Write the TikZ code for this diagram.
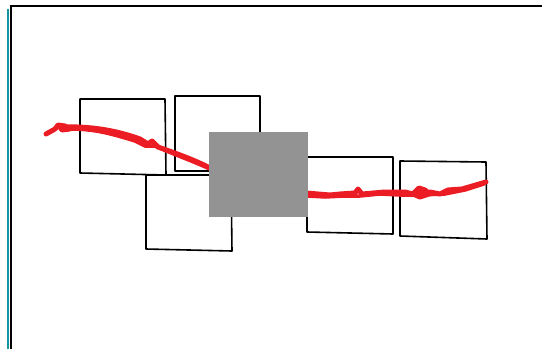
\documentclass[tikz,border=0pt]{standalone}
\begin{document}
\begin{tikzpicture}[x=1pt,y=-1pt,
  sq/.style={draw=black,line width=1.6pt,line join=round},
  ink/.style={draw={rgb,255:red,236;green,28;blue,36},line width=5pt,line cap=round,line join=round},
  inkthin/.style={draw={rgb,255:red,236;green,28;blue,36},line width=3.5pt,line cap=round,line join=round}]
\useasboundingbox (0,0) rectangle (542,349);
\fill[white] (0,0) rectangle (542,349);
% frame
\draw[draw={rgb,255:red,20;green,150;blue,160},line width=2.4pt] (8,9) -- (8,349);
\draw[black,line width=2pt] (10.5,349) -- (10.5,6) -- (542,6);
% boxes
\draw[sq] (80,99) -- (165,99) -- (166,175) -- (80,173) -- cycle;
\draw[sq] (175,96) -- (260,96) -- (260,171) -- (175,171) -- cycle;
\draw[sq] (146,175) -- (231,175) -- (232,251) -- (146,249) -- cycle;
\draw[sq] (307,157) -- (393,157) -- (393,234) -- (307,232) -- cycle;
\draw[sq] (400,161) -- (486,162) -- (487,239) -- (400,236) -- cycle;
% red stroke
\draw[ink] (46,134) -- (55,129) -- (58,125) -- (65,126) -- (70,129) -- (62,130) -- (60,127)
  .. controls (90,126) and (115,130) .. (140,139) -- (148,144) -- (152,141) -- (158,147)
  .. controls (175,153) and (195,160) .. (212,169);
\draw[inkthin] (70,129) .. controls (95,129) and (112,134) .. (135,141) -- (145,146)
  -- (155,146) .. controls (175,155) and (195,162) .. (212,170);
\draw[ink] (306,193) -- (330,195) -- (340,194) -- (355,193) -- (358,189) -- (362,194)
  -- (385,192) -- (405,192) -- (413,194) -- (419,188) -- (425,190) -- (429,194)
  -- (420,197) -- (413,194) -- (430,192) -- (440,194) -- (448,190) -- (462,189) -- (486,182);
\draw[inkthin] (308,196) -- (325,197) -- (345,196) -- (360,196) -- (380,194) -- (400,195)
  -- (420,195) -- (445,194) -- (465,190) -- (484,184);
% gray block
\fill[fill={rgb,255:red,147;green,147;blue,147}] (209,132) rectangle (308,217);
\end{tikzpicture}
\end{document}
